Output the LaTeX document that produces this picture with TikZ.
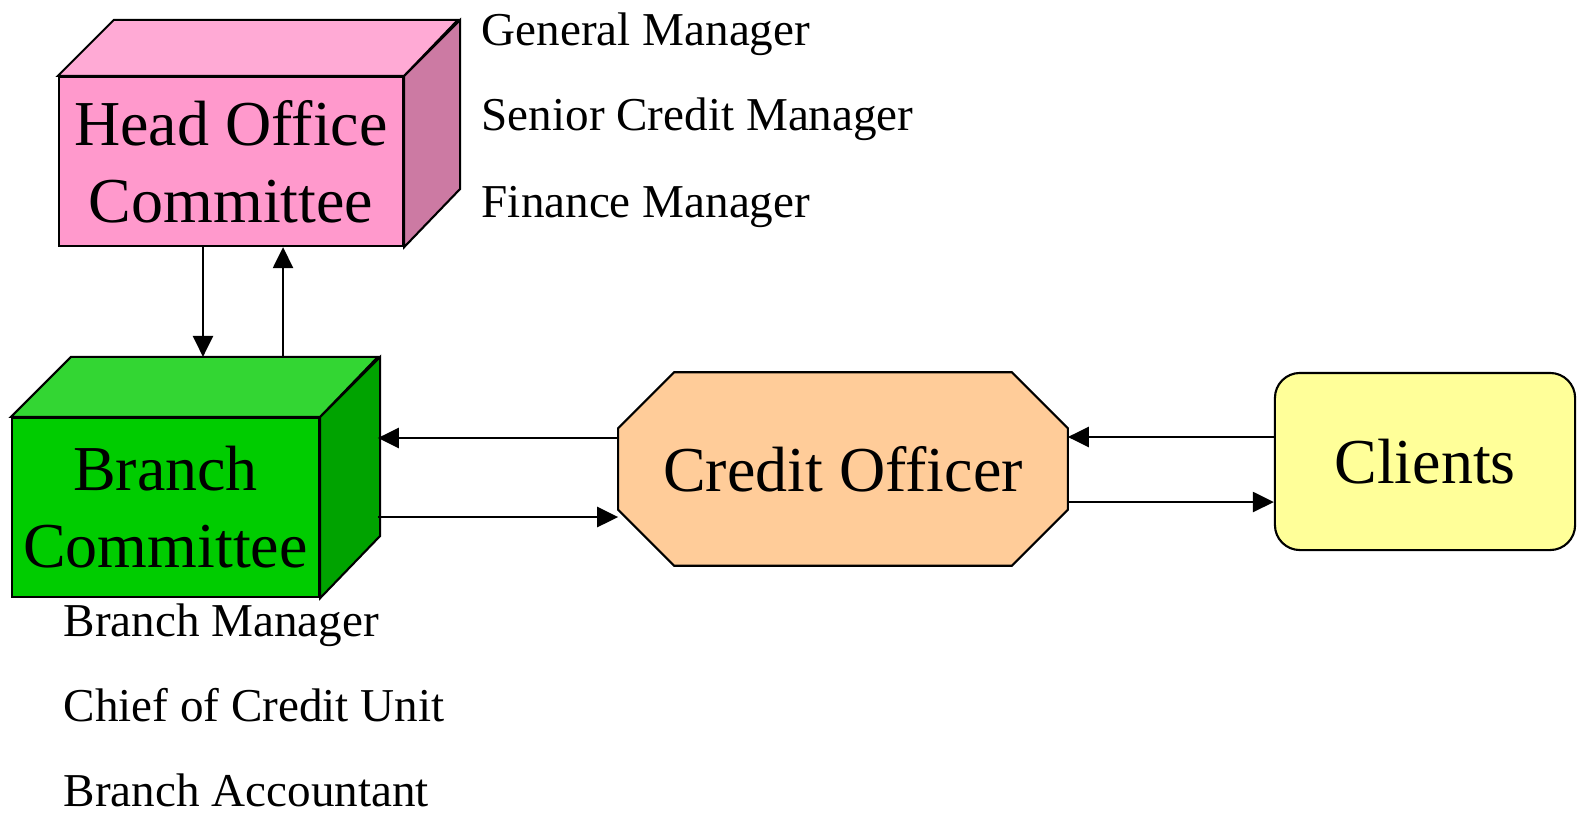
\documentclass[tikz,border=0pt]{standalone}
\usepackage{fontspec}
\setmainfont{Liberation Serif}
\usetikzlibrary{arrows.meta,backgrounds}

\definecolor{hofront}{HTML}{FF99CC}
\definecolor{hotop}{HTML}{FFAAD5}
\definecolor{hoside}{HTML}{CC7AA3}
\definecolor{bcfront}{HTML}{00CC00}
\definecolor{bctop}{HTML}{33D633}
\definecolor{bcside}{HTML}{00A300}
\definecolor{cofill}{HTML}{FFCC99}
\definecolor{clfill}{HTML}{FFFF99}

\tikzset{
  face/.style={draw, line width=0.6pt},
  cubefront/.style={face, inner sep=0pt, align=center, font=\fontsize{18.2}{21.9}\selectfont},
  role/.style={anchor=base west, inner sep=0pt, font=\fontsize{13.4}{16}\selectfont},
  arr/.style={line width=0.7pt, -{Triangle[length=0.21cm,width=0.2cm]}}
}

\begin{document}
\begin{tikzpicture}[x=0.01cm, y=-0.01cm]

    \useasboundingbox (0,0) rectangle (1577,815);

    % Head office cube
    \node[cubefront, fill=hofront, minimum width=3.44cm, minimum height=1.69cm] (ho) at (231,161.5) {Head Office\\Committee};
    \draw[face, fill=hotop] (ho.north west) -- ++(56,-56) -- ++(344,0) -- (ho.north east) -- cycle;
    \draw[face, fill=hoside] (ho.north east) -- ++(56,-56) -- ++(0,169) -- (ho.south east) -- cycle;

    % Branch cube
    \node[cubefront, fill=bcfront, minimum width=3.07cm, minimum height=1.79cm] (bc) at (165.5,507.5) {Branch\\Committee};
    \draw[face, fill=bctop] (bc.north west) -- ++(60,-60) coordinate (bc-back) -- ++(307,0) coordinate (bc-side) -- (bc.north east) -- cycle;
    \draw[face, fill=bcside] (bc.north east) -- ++(60,-60) -- ++(0,179) -- (bc.south east) -- cycle;

    % Credit officer (octagon behind the text) and clients
    \node[minimum width=4.48cm, minimum height=1.92cm, inner sep=0pt, font=\fontsize{18.2}{21.9}\selectfont] (co) at (843,469) {Credit Officer};
    \begin{scope}[on background layer]
      \draw[face, fill=cofill] ([xshift=.56cm]co.north west) -- ([xshift=-.56cm]co.north east)
        -- ([yshift=-.56cm]co.north east) -- ([yshift=.56cm]co.south east)
        -- ([xshift=-.56cm]co.south east) -- ([xshift=.56cm]co.south west)
        -- ([yshift=.56cm]co.south west) -- ([yshift=-.56cm]co.north west) -- cycle;
    \end{scope}
    \node[face, fill=clfill, rounded corners=0.25cm, minimum width=3.0cm, minimum height=1.77cm,
          inner sep=0pt, font=\fontsize{18.2}{21.9}\selectfont] (cl) at (1425,461.5) {Clients};

    % Members
    \node[role] (gm) at (481,45) {General Manager};
    \node[role] (scm) at (481,130) {Senior Credit Manager};
    \node[role] (fm) at (481,217) {Finance Manager};
    \node[role] (bm) at (63,636) {Branch Manager};
    \node[role] (ccu) at (63,721) {Chief of Credit Unit};
    \node[role] (ba) at (63,806) {Branch Accountant};

    % Arrows
    \draw[arr] ([xshift=-.28cm]ho.south) -- ([xshift=-.28cm]ho.south |- bc-back);
    \draw[arr] ([xshift=.52cm]ho.south |- bc-back) -- ([xshift=.52cm]ho.south);
    \draw[arr] ([yshift=.31cm]co.west) -- ([yshift=.31cm]co.west -| bc-side);
    \draw[arr] ([yshift=-.48cm]co.west -| bc-side) -- ([yshift=-.48cm]co.west);
    \draw[arr] ([yshift=.245cm]cl.west) -- ([yshift=.245cm]cl.west -| co.east);
    \draw[arr] ([yshift=-.405cm]cl.west -| co.east) -- ([yshift=-.405cm]cl.west);

\end{tikzpicture}
\end{document}
